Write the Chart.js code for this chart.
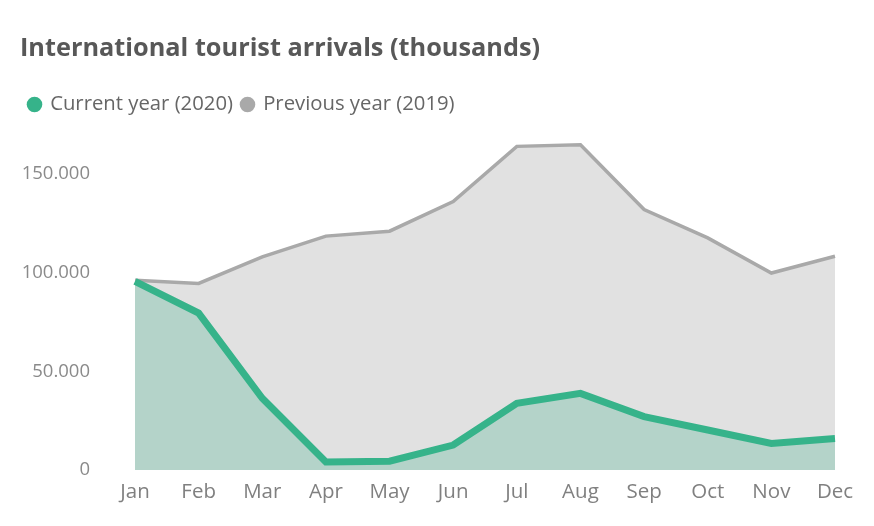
<!DOCTYPE html>
<html>
<head>
<meta charset="utf-8">
<script src="https://cdn.jsdelivr.net/npm/chart.js@4.4.1/dist/chart.umd.min.js"></script>
<style>
  html, body { margin: 0; padding: 0; background: #fff; }
  #wrap { width: 874px; height: 526px; }
</style>
</head>
<body>
<div id="wrap"><canvas id="arrivalsChart" width="874" height="526"></canvas></div>
<script>
const months = ["Jan", "Feb", "Mar", "Apr", "May", "Jun", "Jul", "Aug", "Sep", "Oct", "Nov", "Dec"];

// thousands of arrivals
const current2020 = [95600, 79500, 36300, 4000, 4400, 12600, 33700, 38800, 27000, 20200, 13400, 15900];
const previous2019 = [96100, 94500, 108000, 118500, 121000, 136000, 164000, 164800, 132000, 117600, 99800, 108300];

const yTicks = [0, 50000, 100000, 150000];

const FONT = "'Open Sans', 'Noto Sans', sans-serif";

Chart.defaults.font.family = FONT;
Chart.defaults.color = "#8a8a8a";

new Chart(document.getElementById("arrivalsChart"), {
  type: "line",
  data: {
    labels: months,
    datasets: [
      {
        label: "Current year (2020)",
        data: current2020,
        borderColor: "#36b38a",
        backgroundColor: "#b4d3c9",
        borderWidth: 7,
        fill: "origin",
        pointRadius: 0,
        pointStyle: "circle",
        tension: 0
      },
      {
        label: "Previous year (2019)",
        data: previous2019,
        borderColor: "#a9a9a9",
        backgroundColor: "#e1e1e1",
        borderWidth: 3.5,
        fill: "origin",
        pointRadius: 0,
        pointStyle: "circle",
        tension: 0
      }
    ]
  },
  options: {
    responsive: false,
    animation: false,
    layout: {
      padding: { left: 20, right: 39, top: 0, bottom: 0 }
    },
    plugins: {
      title: {
        display: true,
        text: "International tourist arrivals (thousands)",
        align: "start",
        color: "#585858",
        font: { size: 25.3, weight: "bold", family: FONT },
        padding: { top: 34, bottom: 21 }
      },
      legend: {
        display: true,
        align: "start",
        labels: {
          usePointStyle: true,
          boxWidth: 11,
          boxHeight: 11,
          padding: 9,
          color: "#666666",
          font: { size: 20.3, family: FONT },
          generateLabels(chart) {
            // legend dots take the line colour, not the fill
            return Chart.defaults.plugins.legend.labels.generateLabels(chart).map(item => {
              const ds = chart.data.datasets[item.datasetIndex];
              item.fillStyle = ds.borderColor;
              item.strokeStyle = ds.borderColor;
              item.lineWidth = 0;
              return item;
            });
          }
        }
      },
      tooltip: { enabled: false }
    },
    scales: {
      x: {
        offset: false,
        grid: { display: false, drawTicks: false },
        border: { display: false },
        ticks: {
          autoSkip: false,
          maxRotation: 0,
          padding: 10,
          color: "#808080",
          font: { size: 20.5, family: FONT }
        },
        afterFit(scale) { scale.height = 56; }
      },
      y: {
        min: 0,
        max: 175000,
        grid: { display: false, drawTicks: false },
        border: { display: false },
        afterBuildTicks(scale) {
          scale.ticks = yTicks.map(v => ({ value: v }));
        },
        ticks: {
          padding: 45,
          color: "#8a8a8a",
          font: { size: 18.5, family: FONT },
          callback: v => v === 0 ? "0" : v.toLocaleString("de-DE")
        },
        afterFit(scale) { scale.width = 115; }
      }
    }
  }
});
</script>
</body>
</html>
